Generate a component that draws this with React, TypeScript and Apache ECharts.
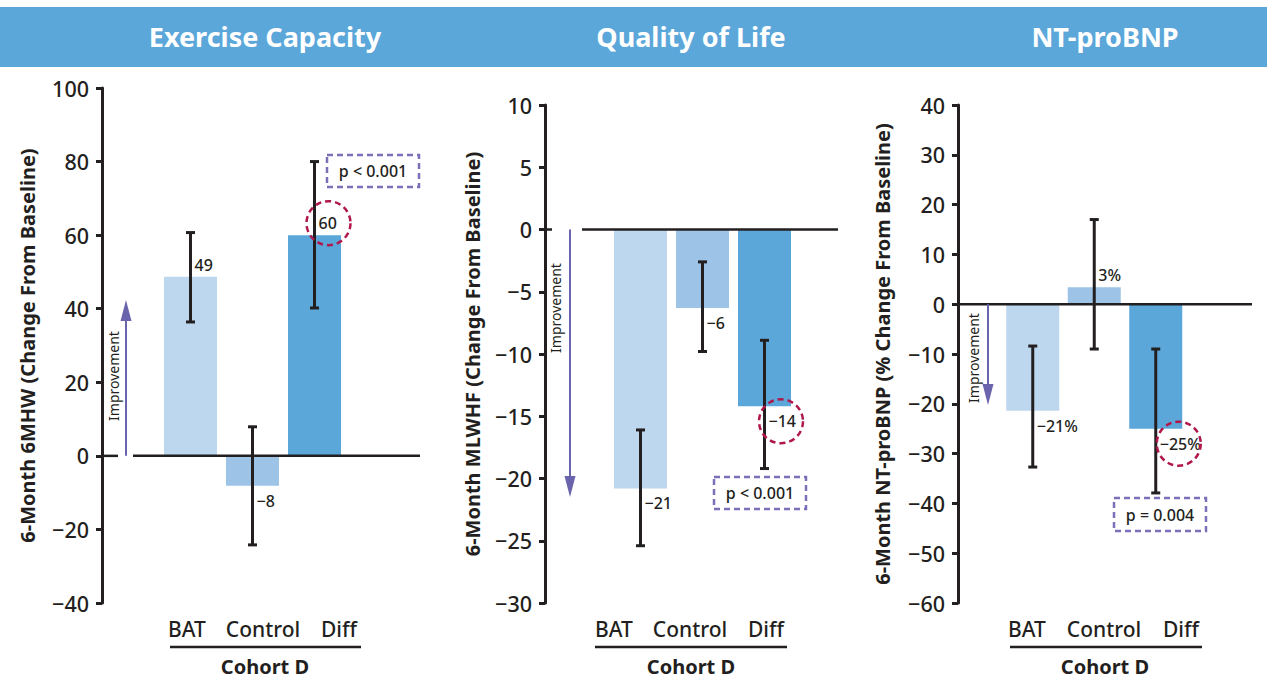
import React, { useEffect, useRef } from 'react';
import * as echarts from 'echarts';

const categories = ['BAT', 'Control', 'Diff'];

const exerciseMean = [48.7, -8.1, 60.0];
const exerciseLow = [36.4, -24.2, 40.2];
const exerciseHigh = [60.7, 7.9, 80.0];
const exerciseLabels = ['49', '−8', '60'];

const qolMean = [-20.8, -6.3, -14.2];
const qolLow = [-25.4, -9.8, -19.2];
const qolHigh = [-16.1, -2.6, -8.9];
const qolLabels = ['−21', '−6', '−14'];

const bnpMean = [-21.4, 3.4, -25.0];
const bnpLow = [-32.7, -9.0, -37.9];
const bnpHigh = [-8.4, 17.0, -9.0];
const bnpLabels = ['−21%', '3%', '−25%'];

const headerTitles = ['Exercise Capacity', 'Quality of Life', 'NT-proBNP'];
const yTitles = [
  '6-Month 6MHW (Change From Baseline)',
  '6-Month MLWHF (Change From Baseline)',
  '6-Month NT-proBNP (% Change From Baseline)',
];
const yMins = [-40, -30, -60];
const yMaxs = [100, 10, 40];
const yIntervals = [20, 5, 10];
const pTexts = ['p < 0.001', 'p < 0.001', 'p = 0.004'];
const groupLabel = 'Cohort D';
const improvementText = 'Improvement';

const barColors = ['#BDD7EE', '#9DC3E6', '#5BA7DA'];
const INK = '#231F20';
const PURPLE = '#6A64AC';
const CRIMSON = '#B0184C';
const FONT = '"Noto Sans", "Open Sans", sans-serif';
const MED = 500;

const layouts = [
  {
    mean: exerciseMean, low: exerciseLow, high: exerciseHigh, labels: exerciseLabels,
    axisX: 102, gridLeft: 159.5, gridWidth: 186, top: 88, height: 515, nameGap: 65,
    labelLeft: 149, labelWidth: 228, lineStart: 133, lineEnd: 420, tickExt: 118,
    arrowX: 126, arrowTip: 300, textX: 113, textY: 376, circleDx: 14,
    pBox: [327, 155, 92, 32], under: [170, 361], headerX: 265, cohortX: 265,
  },
  {
    mean: qolMean, low: qolLow, high: qolHigh, labels: qolLabels,
    axisX: 545, gridLeft: 609.5, gridWidth: 186, top: 105, height: 498, nameGap: 63,
    labelLeft: 576, labelWidth: 228, lineStart: 582, lineEnd: 838, tickExt: 552,
    arrowX: 570, arrowTip: 497, textX: 555, textY: 308, circleDx: 16.5,
    pBox: [714, 477, 92, 32], under: [595, 787], headerX: 691, cohortX: 691,
  },
  {
    mean: bnpMean, low: bnpLow, high: bnpHigh, labels: bnpLabels,
    axisX: 958, gridLeft: 1002, gridWidth: 184.5, top: 105, height: 498, nameGap: 66,
    labelLeft: 988.5, labelWidth: 231, lineStart: 958, lineEnd: 1252, tickExt: 958,
    arrowX: 988, arrowTip: 405, textX: 973, textY: 358, circleDx: 23,
    pBox: [1114, 498, 92, 33], under: [1010, 1202], headerX: 1105, cohortX: 1105,
  },
];

function buildOption() {
  const barGrids: any[] = [];
  const labelGrids: any[] = [];
  const barX: any[] = [];
  const labelX: any[] = [];
  const barY: any[] = [];
  const labelY: any[] = [];
  const series: any[] = [];
  const graphic: any[] = [];

  graphic.push({
    type: 'rect', shape: { x: 0, y: 7, width: 1267, height: 60 },
    style: { fill: '#5BA7DA' }, z: 1,
  });

  layouts.forEach((p, i) => {
    barGrids.push({ left: p.gridLeft, top: p.top, width: p.gridWidth, height: p.height, containLabel: false });
    barX.push({ type: 'category', gridIndex: i, data: categories, show: false });
    barY.push({
      type: 'value', gridIndex: i, min: yMins[i], max: yMaxs[i], interval: yIntervals[i],
      position: 'left', offset: p.gridLeft - p.axisX,
      axisLine: { show: true, lineStyle: { color: INK, width: 3 } },
      axisTick: { show: true, length: 6, lineStyle: { color: INK, width: 3 } },
      splitLine: { show: false },
      axisLabel: {
        color: INK, fontSize: 21.5, fontFamily: FONT, fontWeight: MED, margin: 13,
        formatter: (v: number) => String(v).replace('-', '−'),
      },
      name: yTitles[i], nameLocation: 'middle', nameGap: p.nameGap,
      nameTextStyle: { color: INK, fontSize: 20, fontWeight: 'bold', fontFamily: FONT },
    });

    series.push({
      type: 'bar', xAxisIndex: i, yAxisIndex: i, barWidth: 53,
      data: p.mean.map((v, k) => ({ value: v, itemStyle: { color: barColors[k] } })),
      z: 2,
    });

    const labels = p.labels;
    const circleDx = p.circleDx;
    series.push({
      type: 'custom', xAxisIndex: i, yAxisIndex: i, z: 5,
      encode: { x: 0, y: [1, 2, 3] },
      data: categories.map((c, k) => [k, p.mean[k], p.low[k], p.high[k]]),
      renderItem: (params: any, api: any) => {
        const k = params.dataIndex;
        const x = api.value(0);
        const lo = api.coord([x, api.value(2)]);
        const hi = api.coord([x, api.value(3)]);
        const m = api.coord([x, api.value(1)]);
        const cx = lo[0];
        const st = { stroke: INK, lineWidth: 3 };
        const ly = m[1] + (api.value(1) >= 0 ? -12 : 15);
        const children: any[] = [
          { type: 'line', shape: { x1: cx, y1: lo[1], x2: cx, y2: hi[1] }, style: st },
          { type: 'line', shape: { x1: cx - 4.5, y1: lo[1], x2: cx + 4.5, y2: lo[1] }, style: st },
          { type: 'line', shape: { x1: cx - 4.5, y1: hi[1], x2: cx + 4.5, y2: hi[1] }, style: st },
          {
            type: 'text', x: cx + 4, y: ly,
            style: { text: labels[k], fill: INK, fontSize: 16, fontWeight: MED, fontFamily: FONT, align: 'left', verticalAlign: 'middle' },
          },
        ];
        if (k === 2) {
          children.push({
            type: 'circle', shape: { cx: cx + circleDx, cy: ly, r: 22 },
            style: { fill: 'none', stroke: CRIMSON, lineWidth: 2.5, lineDash: [6, 4] },
          });
        }
        return { type: 'group', children };
      },
    });

    labelGrids.push({ left: p.labelLeft, top: 603, width: p.labelWidth, height: 1 });
    labelX.push({
      type: 'category', gridIndex: 3 + i, data: categories,
      axisLine: { show: false }, axisTick: { show: false },
      axisLabel: { color: INK, fontSize: 21, fontWeight: MED, fontFamily: FONT, margin: 14, interval: 0 },
    });
    labelY.push({ type: 'value', gridIndex: 3 + i, show: false });

    const y0 = p.top + (p.height * yMaxs[i]) / (yMaxs[i] - yMins[i]);

    graphic.push({
      type: 'text', x: p.headerX, y: 36, z: 2,
      style: { text: headerTitles[i], fill: '#FFFFFF', font: `bold 27px ${FONT}`, align: 'center', verticalAlign: 'middle' },
    });
    graphic.push({
      type: 'line', z: 10, shape: { x1: p.lineStart, y1: y0, x2: p.lineEnd, y2: y0 },
      style: { stroke: INK, lineWidth: 2.5 },
    });
    if (p.tickExt > p.axisX) {
      graphic.push({
        type: 'line', z: 10, shape: { x1: p.axisX, y1: y0, x2: p.tickExt, y2: y0 },
        style: { stroke: INK, lineWidth: 2.5 },
      });
    }
    const dir = p.arrowTip < y0 ? -1 : 1;
    const base = p.arrowTip - dir * 21;
    graphic.push({
      type: 'line', z: 10, shape: { x1: p.arrowX, y1: y0, x2: p.arrowX, y2: base },
      style: { stroke: PURPLE, lineWidth: 2 },
    });
    graphic.push({
      type: 'polygon', z: 10,
      shape: { points: [[p.arrowX, p.arrowTip], [p.arrowX - 5.5, base], [p.arrowX + 5.5, base]] },
      style: { fill: PURPLE },
    });
    graphic.push({
      type: 'text', x: p.textX, y: p.textY, rotation: Math.PI / 2, z: 10,
      style: { text: improvementText, fill: INK, fontSize: 14, fontFamily: FONT, align: 'center', verticalAlign: 'middle' },
    });
    const [bx, by, bw, bh] = p.pBox;
    graphic.push({
      type: 'rect', z: 10, shape: { x: bx, y: by, width: bw, height: bh },
      style: { fill: '#FFFFFF', stroke: '#7B70B8', lineWidth: 2.5, lineDash: [6, 4] },
    });
    graphic.push({
      type: 'text', z: 11, x: bx + bw / 2, y: by + bh / 2,
      style: { text: pTexts[i], fill: INK, fontSize: 16, fontWeight: MED, fontFamily: FONT, align: 'center', verticalAlign: 'middle' },
    });
    graphic.push({
      type: 'line', z: 10, shape: { x1: p.under[0], y1: 647, x2: p.under[1], y2: 647 },
      style: { stroke: INK, lineWidth: 2.5 },
    });
    graphic.push({
      type: 'text', z: 10, x: p.cohortX, y: 666,
      style: { text: groupLabel, fill: INK, font: `bold 20px ${FONT}`, align: 'center', verticalAlign: 'middle' },
    });
  });

  return {
    animation: false,
    backgroundColor: '#FFFFFF',
    grid: [...barGrids, ...labelGrids],
    xAxis: [...barX, ...labelX],
    yAxis: [...barY, ...labelY],
    series,
    graphic,
  };
}

export default function App() {
  const ref = useRef<HTMLDivElement>(null);
  useEffect(() => {
    if (!ref.current) return;
    const chart = echarts.init(ref.current, undefined, { renderer: 'svg' });
    chart.setOption(buildOption() as any);
    return () => chart.dispose();
  }, []);
  return (
    <div
      ref={ref}
      style={{ position: 'absolute', left: 0, top: 0, width: 1267, height: 681 }}
    />
  );
}
